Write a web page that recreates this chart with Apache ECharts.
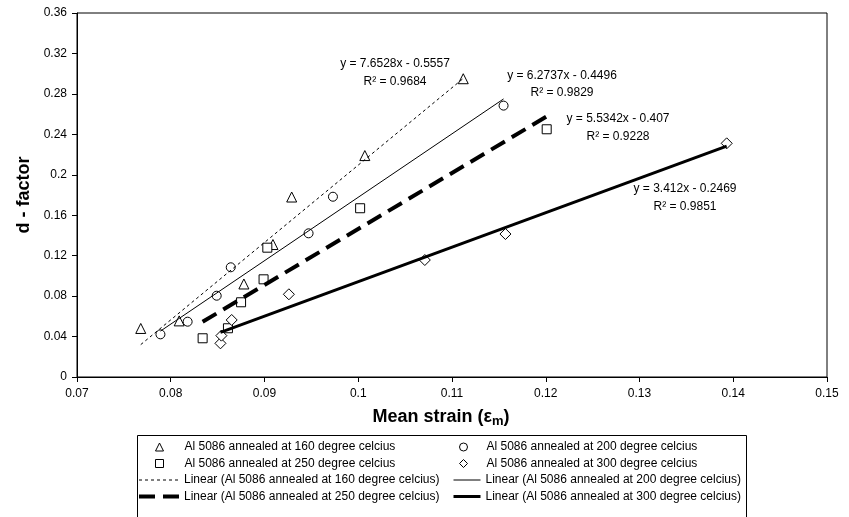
<!DOCTYPE html>
<html><head><meta charset="utf-8">
<script src="https://cdn.jsdelivr.net/npm/echarts@6/dist/echarts.min.js"></script>
<style>html,body{margin:0;padding:0;background:#fff}#c{width:849px;height:517px}</style>
</head><body><div id="c"></div>
<script>
const FONT = "'Liberation Sans', Arial, sans-serif";
const seriesNames = [
  'Al 5086 annealed at 160 degree celcius',
  'Al 5086 annealed at 200 degree celcius',
  'Al 5086 annealed at 250 degree celcius',
  'Al 5086 annealed at 300 degree celcius'
];
// measured points [mean strain, d-factor]
const data160 = [[0.0768,0.048],[0.0809,0.0555],[0.0878,0.092],[0.0909,0.131],[0.0929,0.178],[0.1007,0.219],[0.1112,0.295]];
const data200 = [[0.0789,0.0422],[0.0818,0.0547],[0.0849,0.0804],[0.0864,0.1085],[0.0947,0.1421],[0.0973,0.1783],[0.1155,0.2684]];
const data250 = [[0.0834,0.0383],[0.0861,0.0482],[0.0875,0.0739],[0.0899,0.0966],[0.0903,0.1279],[0.1002,0.1669],[0.1201,0.245]];
const data300 = [[0.0853,0.0333],[0.0854,0.0409],[0.0865,0.0564],[0.0926,0.0818],[0.1071,0.1157],[0.1157,0.1414],[0.1393,0.2311]];
// trendline equations shown on chart
const slopes = [7.6528, 6.2737, 5.5342, 3.412];
const intercepts = [-0.5557, -0.4496, -0.407, -0.2469];
const r2Values = ['0.9684', '0.9829', '0.9228', '0.9851'];
const eqTexts = ['y = 7.6528x - 0.5557', 'y = 6.2737x - 0.4496', 'y = 5.5342x - 0.407', 'y = 3.412x - 0.2469'];

const allData = [data160, data200, data250, data300];
const symbols = ['triangle', 'circle', 'rect', 'diamond'];
const symbolSizes = [10, 9, 9, 11];
const lineStyles = [
  {width: 1, type: [3, 3]},
  {width: 1, type: 'solid'},
  {width: 4, type: [16, 8]},
  {width: 3, type: 'solid'}
];

function trend(i) {
  const xs = allData[i].map(p => p[0]);
  const x0 = Math.min(...xs), x1 = Math.max(...xs);
  return [[x0, slopes[i] * x0 + intercepts[i]], [x1, slopes[i] * x1 + intercepts[i]]];
}

const series = [];
seriesNames.forEach((n, i) => {
  series.push({
    name: n, type: 'scatter', data: allData[i], symbol: symbols[i], symbolSize: symbolSizes[i],
    itemStyle: {color: '#fff', borderColor: '#000', borderWidth: 1, opacity: 1}, z: 2
  });
});
seriesNames.forEach((n, i) => {
  series.push({
    name: 'Linear (' + n + ')', type: 'line', data: trend(i), symbol: 'none', showSymbol: false,
    itemStyle: {color: 'rgba(0,0,0,0)'},
    lineStyle: Object.assign({color: '#000'}, lineStyles[i]), z: 3, silent: true
  });
});

const linName = n => 'Linear (' + n + ')';
const legendCommon = {
  orient: 'vertical', padding: 0, itemGap: 4.5,
  textStyle: {fontFamily: FONT, fontSize: 12, color: '#000'},
  itemStyle: {borderWidth: 1},
  lineStyle: {width: 'inherit'},
  selectedMode: false
};
const symLegend = (left, padL, idxs) => Object.assign({}, legendCommon, {
  left: left, top: 441, itemWidth: 8, itemHeight: 8,
  textStyle: {fontFamily: FONT, fontSize: 12, color: '#000', padding: [0, 0, 0, padL]},
  data: idxs.map(i => seriesNames[i])
});
const lineLegend = (left, w, idxs) => Object.assign({}, legendCommon, {
  left: left, top: 474, itemWidth: w, itemHeight: 8,
  data: idxs.map(i => ({name: linName(seriesNames[i]), itemStyle: {opacity: 0}}))
});

const eqPos = [[395, 64, 82], [562, 76, 93], [618, 119, 137], [685, 189, 207]];
const graphics = [{
  type: 'rect', shape: {x: 137.5, y: 435.5, width: 609, height: 100},
  style: {fill: 'none', stroke: '#000', lineWidth: 1}, z: 0, silent: true
}];
eqTexts.forEach((t, i) => {
  graphics.push({type: 'text', x: eqPos[i][0], y: eqPos[i][1],
    style: {text: t, fontFamily: FONT, fontSize: 12, fill: '#000', align: 'center', verticalAlign: 'middle'}});
  graphics.push({type: 'text', x: eqPos[i][0], y: eqPos[i][2],
    style: {text: 'R² = ' + r2Values[i], fontFamily: FONT, fontSize: 12, fill: '#000', align: 'center', verticalAlign: 'middle'}});
});

const fmt = v => String(+v.toFixed(2));

const option = {
  animation: false,
  backgroundColor: '#fff',
  textStyle: {fontFamily: FONT},
  grid: {left: 77, right: 22, top: 13, bottom: 140, show: true, borderColor: '#000', borderWidth: 1},
  xAxis: {
    type: 'value', min: 0.07, max: 0.15, interval: 0.01,
    name: '{a|Mean strain (ε}{s|m}{a|)}', nameLocation: 'middle', nameGap: 29,
    nameTextStyle: {padding: [0, 22, 0, 0], rich: {
      a: {fontFamily: FONT, fontSize: 18, fontWeight: 'bold', color: '#000', lineHeight: 22, verticalAlign: 'middle'},
      s: {fontFamily: FONT, fontSize: 13, fontWeight: 'bold', color: '#000', lineHeight: 22, verticalAlign: 'bottom'}
    }},
    axisLine: {lineStyle: {color: '#000', width: 1}},
    axisTick: {show: true, length: 5, lineStyle: {color: '#000'}},
    axisLabel: {fontFamily: FONT, fontSize: 12, color: '#000', margin: 11, formatter: fmt},
    splitLine: {show: false}
  },
  yAxis: {
    type: 'value', min: 0, max: 0.36, interval: 0.04,
    name: 'd - factor', nameLocation: 'middle', nameGap: 41, nameRotate: 90,
    nameTextStyle: {fontFamily: FONT, fontSize: 18, fontWeight: 'bold', color: '#000'},
    axisLine: {show: true, lineStyle: {color: '#000', width: 1}},
    axisTick: {show: true, length: 5, lineStyle: {color: '#000'}},
    axisLabel: {fontFamily: FONT, fontSize: 12, color: '#000', margin: 10, formatter: fmt},
    splitLine: {show: false}
  },
  legend: [
    symLegend(155, 16, [0, 2]),
    symLegend(459, 14, [1, 3]),
    lineLegend(137, 40, [0, 2]),
    lineLegend(452, 27, [1, 3])
  ],
  graphic: graphics,
  series: series
};
const chart = echarts.init(document.getElementById('c'), null, {renderer: 'canvas'});
chart.setOption(option);
</script>
</body></html>
